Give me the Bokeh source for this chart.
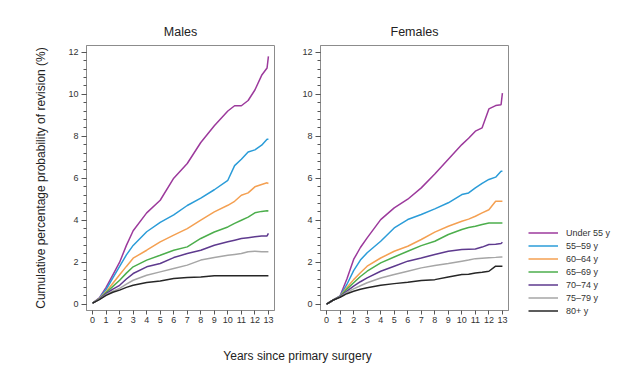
from bokeh.plotting import figure
from bokeh.models import Range1d, Legend, LegendItem, FixedTicker, Label
from bokeh.layouts import row, column
from bokeh.embed import file_html
from bokeh.resources import INLINE

years = [0, 0.5, 1, 1.5, 2, 2.5, 3, 4, 5, 6, 7, 8, 9, 10, 10.5, 11, 11.5, 12, 12.5, 12.9, 13]
groups = ["Under 55 y", "55\u201359 y", "60\u201364 y", "65\u201369 y", "70\u201374 y", "75\u201379 y", "80+ y"]
colors = ["#9c3a9c", "#2b9cd8", "#f4a052", "#4cae4c", "#5e3a8e", "#a6a6a6", "#262626"]

males_u55 = [0.05, 0.3, 0.8, 1.4, 2.0, 2.8, 3.5, 4.35, 4.95, 6.0, 6.7, 7.7, 8.5, 9.2, 9.45, 9.45, 9.7, 10.2, 10.9, 11.25, 11.8]
males_55 = [0.05, 0.28, 0.7, 1.25, 1.8, 2.35, 2.8, 3.45, 3.9, 4.25, 4.7, 5.05, 5.45, 5.9, 6.6, 6.9, 7.25, 7.35, 7.57, 7.86, 7.86]
males_60 = [0.05, 0.26, 0.6, 1.0, 1.4, 1.8, 2.19, 2.57, 2.97, 3.29, 3.6, 4.0, 4.4, 4.71, 4.9, 5.19, 5.3, 5.59, 5.7, 5.78, 5.75]
males_65 = [0.05, 0.25, 0.55, 0.85, 1.14, 1.48, 1.78, 2.1, 2.33, 2.57, 2.73, 3.13, 3.44, 3.68, 3.85, 4.0, 4.15, 4.35, 4.42, 4.45, 4.44]
males_70 = [0.05, 0.24, 0.5, 0.72, 0.9, 1.2, 1.46, 1.78, 1.94, 2.22, 2.41, 2.57, 2.81, 2.97, 3.05, 3.13, 3.17, 3.21, 3.25, 3.25, 3.37]
males_75 = [0.05, 0.23, 0.45, 0.62, 0.75, 0.96, 1.14, 1.38, 1.54, 1.7, 1.86, 2.1, 2.22, 2.33, 2.37, 2.41, 2.5, 2.52, 2.5, 2.5, 2.5]
males_80 = [0.05, 0.22, 0.42, 0.57, 0.67, 0.8, 0.9, 1.03, 1.11, 1.22, 1.27, 1.3, 1.35, 1.35, 1.35, 1.35, 1.35, 1.35, 1.35, 1.35, 1.35]

females_u55 = [0.0, 0.2, 0.4, 1.2, 2.13, 2.7, 3.16, 4.03, 4.59, 5.0, 5.54, 6.2, 6.9, 7.6, 7.9, 8.24, 8.4, 9.3, 9.46, 9.5, 10.05]
females_55 = [0.0, 0.2, 0.38, 0.94, 1.6, 2.1, 2.45, 3.0, 3.63, 4.03, 4.27, 4.54, 4.83, 5.22, 5.3, 5.54, 5.75, 5.94, 6.05, 6.33, 6.33]
females_60 = [0.0, 0.2, 0.37, 0.8, 1.17, 1.5, 1.81, 2.2, 2.52, 2.76, 3.08, 3.43, 3.71, 3.95, 4.05, 4.19, 4.35, 4.5, 4.9, 4.9, 4.9]
females_65 = [0.0, 0.2, 0.37, 0.72, 1.02, 1.32, 1.57, 1.97, 2.25, 2.52, 2.79, 3.0, 3.32, 3.56, 3.65, 3.71, 3.8, 3.87, 3.87, 3.87, 3.87]
females_70 = [0.0, 0.2, 0.36, 0.62, 0.86, 1.07, 1.25, 1.57, 1.81, 2.05, 2.2, 2.37, 2.52, 2.6, 2.62, 2.63, 2.72, 2.84, 2.86, 2.89, 2.95]
females_75 = [0.0, 0.2, 0.35, 0.56, 0.73, 0.88, 1.02, 1.25, 1.41, 1.57, 1.73, 1.84, 1.94, 2.05, 2.1, 2.17, 2.19, 2.21, 2.23, 2.25, 2.25]
females_80 = [0.0, 0.2, 0.33, 0.5, 0.62, 0.71, 0.78, 0.9, 0.98, 1.05, 1.13, 1.17, 1.3, 1.41, 1.43, 1.49, 1.52, 1.57, 1.81, 1.81, 1.81]

males = [males_u55, males_55, males_60, males_65, males_70, males_75, males_80]
females = [females_u55, females_55, females_60, females_65, females_70, females_75, females_80]

x_ticks = list(range(0, 14))
y_ticks = [0, 2, 4, 6, 8, 10, 12]

FONT = "Liberation Sans"
FRAME_C = "#8c8c8c"


def panel(title, series, border_left, border_right, ylabel=None):
    p = figure(frame_width=188, frame_height=265, output_backend="svg", toolbar_location=None,
               x_range=Range1d(-0.45, 13.45), y_range=Range1d(-0.3, 12.32),
               min_border_left=border_left, min_border_right=border_right,
               min_border_top=45, min_border_bottom=25)
    p.title.text = title
    p.title.align = "center"
    p.title.text_font = FONT
    p.title.text_font_size = "12.5px"
    p.title.text_font_style = "normal"
    p.title.text_color = "#222222"
    p.title.standoff = 14
    p.outline_line_color = FRAME_C
    p.outline_line_width = 1
    p.xgrid.visible = False
    p.ygrid.visible = False
    for ax in (p.xaxis[0], p.yaxis[0]):
        ax.axis_line_color = FRAME_C
        ax.major_tick_line_color = "#555555"
        ax.minor_tick_line_color = "#555555"
        ax.major_tick_in = 0
        ax.minor_tick_in = 0
        ax.major_label_text_font = FONT
        ax.major_label_text_font_size = "9px"
        ax.major_label_text_color = "#333333"
    p.xaxis.ticker = FixedTicker(ticks=x_ticks)
    p.xaxis.major_tick_out = 4
    p.xaxis.minor_tick_out = 0
    p.xaxis.major_label_standoff = 2
    p.yaxis.ticker = FixedTicker(ticks=y_ticks, minor_ticks=[i * 0.4 for i in range(31)])
    p.yaxis.major_tick_out = 5
    p.yaxis.minor_tick_out = 3
    p.yaxis.major_label_standoff = 3
    if ylabel:
        p.yaxis.axis_label = ylabel
        p.yaxis.axis_label_text_font = FONT
        p.yaxis.axis_label_text_font_size = "12px"
        p.yaxis.axis_label_text_font_style = "normal"
        p.yaxis.axis_label_text_color = "#222222"
        p.yaxis.axis_label_standoff = 17
    renderers = []
    for vals, c in zip(series, colors):
        r = p.line(years, vals, line_color=c, line_width=1.5)
        renderers.append(r)
    return p, renderers


p1, _ = panel("Males", males, 86, 6, ylabel="Cumulative percentage probability of revision (%)")
p2, rs = panel("Females", females, 40, 105)

legend = Legend(items=[LegendItem(label=g, renderers=[r]) for g, r in zip(groups, rs)],
                location=(20, -7), padding=0, margin=0, spacing=0,
                glyph_width=30, glyph_height=13, label_height=13, label_standoff=8,
                label_text_font=FONT, label_text_font_size="9px", label_text_color="#333333",
                border_line_color=None, background_fill_alpha=0)
p2.add_layout(legend, "right")

px = figure(width=613, height=35, output_backend="svg", toolbar_location=None,
            x_range=Range1d(0, 613), y_range=Range1d(0, 35), min_border=0, outline_line_color=None)
px.axis.visible = False
px.grid.visible = False
px.add_layout(Label(x=297, y=15, x_units="screen", y_units="screen", text="Years since primary surgery",
                    text_font=FONT, text_font_size="12px", text_color="#222222",
                    text_align="center", text_baseline="middle"))

layout = column(row(p1, p2, spacing=0), px, spacing=0)
open("out.html", "w").write(file_html(layout, INLINE))
